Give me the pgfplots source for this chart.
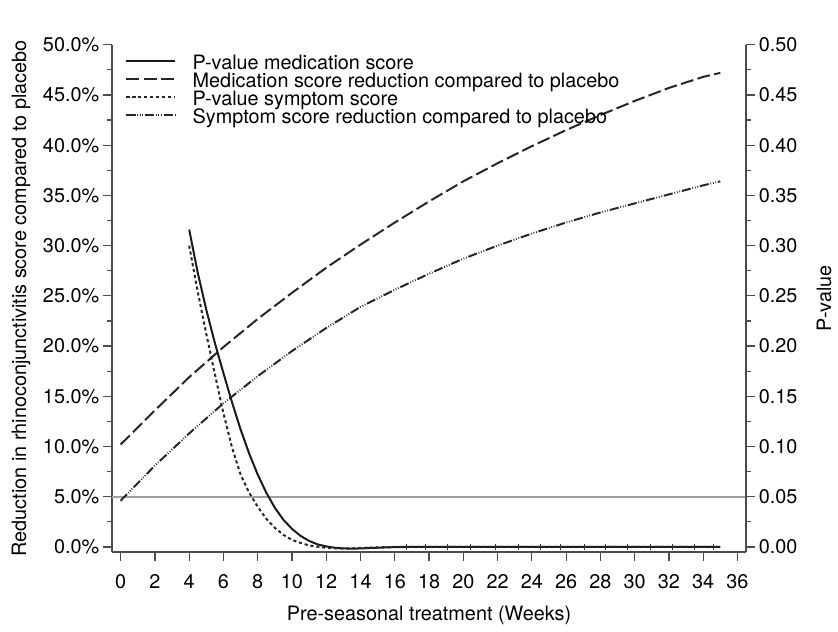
\documentclass[border=0pt]{standalone}
\usepackage{pgfplots}
\pgfplotsset{compat=1.18}
\usepackage{fontspec}
\setmainfont{TeX Gyre Heros}

\definecolor{axisgray}{gray}{0.3}
\definecolor{refgray}{gray}{0.62}

\tikzset{
  pmed/.style={black!90, line width=1pt, solid},
  medred/.style={black!85, line width=1pt, dash pattern=on 6.5pt off 2.2pt},
  psym/.style={black!85, line width=1pt, dash pattern=on 1.6pt off 1.4pt},
  symred/.style={black!85, line width=1pt, dash pattern=on 4.6pt off 0.9pt on 0.4pt off 0.9pt on 0.4pt off 0.9pt on 0.4pt off 0.9pt},
}

\begin{document}
\fontsize{10}{12}\selectfont
\begin{tikzpicture}
\pgfplotsset{
  every axis/.append style={
    scale only axis, width=318.7bp, height=255bp,
    xmin=-0.5, xmax=36.5,
    font=\fontsize{10}{12}\selectfont,
    tick align=outside,
    major tick length=4.5bp, minor tick length=2.5bp,
    every tick/.style={axisgray, line width=0.6pt},
    axis line style={axisgray, line width=0.8pt},
    /pgf/number format/assume math mode=true,
    yticklabel style={inner sep=1.8pt},
    xticklabel style={yshift=-3.2bp},
  },
}
% left axis: reductions (%)
\begin{axis}[
  axis x line*=bottom, axis y line*=left,
  ymin=-0.5, ymax=50,
  xtick={0,2,...,36},
  ytick={0,5,10,15,20,25,30,35,40,45,50},
  minor ytick={2.5,7.5,12.5,17.5,22.5,27.5,32.5,37.5,42.5,47.5},
  yticklabel={\pgfmathprintnumber[fixed,fixed zerofill,precision=1]{\tick}\%},
  xlabel={Pre-seasonal treatment (Weeks)},
  xlabel style={yshift=-2bp},
  ylabel={Reduction in rhinoconjunctivitis score compared to placebo},
  ylabel style={yshift=1bp},
]
\addplot[refgray, line width=1.2pt] coordinates {(-0.5,5) (36.5,5)};
% medication score reduction
\addplot[medred] coordinates {
 (0,10.2) (2,13.6) (4,16.9) (6,19.9) (8,22.7) (10,25.3) (12,27.8)
 (14,30.1) (16,32.3) (18,34.4) (20,36.4) (22,38.2) (24,39.9) (26,41.5)
 (28,43.0) (30,44.4) (32,45.7) (34,46.8) (35,47.2)
};
% symptom score reduction
\addplot[symred] coordinates {
 (0,4.6) (2,8.1) (4,11.3) (6,14.3) (8,17.0) (10,19.5) (12,21.8)
 (14,23.9) (16,25.6) (18,27.2) (20,28.7) (22,30.0) (24,31.2) (26,32.3)
 (28,33.3) (30,34.2) (32,35.1) (34,36.0) (35,36.4)
};
\end{axis}
% right axis: p-values
\begin{axis}[
  axis x line=none, axis y line*=right,
  ymin=-0.005, ymax=0.5,
  ytick={0,0.05,0.10,0.15,0.20,0.25,0.30,0.35,0.40,0.45,0.50},
  minor ytick={0.025,0.075,0.125,0.175,0.225,0.275,0.325,0.375,0.425,0.475},
  yticklabel style={/pgf/number format/.cd, fixed, fixed zerofill, precision=2},
  ylabel={P-value},
  ylabel style={at={(rel axis cs:1,0.5)}, anchor=north, yshift=-32bp},
  legend style={at={(axis description cs:0.021,0.977)}, anchor=north west,
    draw=none, fill=none, inner sep=0pt, outer sep=0pt,
    nodes={inner sep=0pt, text height=6.6pt, text depth=2.55pt},
    /tikz/every odd column/.append style={column sep=8.35bp}},
  legend cell align=left,
  legend image code/.code={\draw[#1] (0bp,2.2bp) -- (24.5bp,2.2bp);},
]
\addplot[pmed] coordinates {
 (4,0.316) (4.5,0.273) (5,0.236) (5.5,0.203) (6,0.173) (6.5,0.144)
 (7,0.117) (7.5,0.093) (8,0.072) (8.5,0.054) (9,0.039) (9.5,0.027)
 (10,0.018) (10.5,0.011) (11,0.006) (11.5,0.0025) (12,0.0005)
 (12.5,-0.0008) (13,-0.0015) (13.5,-0.0017) (14,-0.0015) (15,-0.0008)
 (16,-0.0002) (17,0) (20,0) (25,0) (30,0) (35,0)
};
\addlegendentry{P-value medication score}
\addlegendimage{medred}
\addlegendentry{Medication score reduction compared to placebo}
\addplot[psym] coordinates {
 (4,0.300) (4.5,0.254) (5,0.212) (5.5,0.172) (6,0.133) (6.5,0.099)
 (7,0.072) (7.5,0.054) (8,0.040) (8.5,0.028) (9,0.019) (9.5,0.012)
 (10,0.007) (10.5,0.004) (11,0.0015) (11.5,0.0002) (12,-0.0008)
 (12.5,-0.0014) (13,-0.0016) (13.5,-0.0014) (14,-0.001) (15,-0.0004)
 (16,0) (20,0) (25,0) (30,0) (35,0)
};
\addlegendentry{P-value symptom score}
\addlegendimage{symred}
\addlegendentry{Symptom score reduction compared to placebo}
% small point markers along the flat part
\addplot[only marks, mark=|, mark size=1.6bp, black!80, mark options={line width=0.5pt}, forget plot] coordinates {
 (16.7,0) (17.8,0) (19.1,0) (20.4,0) (21.9,0) (23.2,0) (24.5,0) (25.7,0)
 (27.1,0) (28.3,0) (29.6,0) (30.9,0) (32.2,0) (33.5,0) (34.6,0)
};
\end{axis}
\path ([xshift=-56.35bp,yshift=-33.5bp]current axis.south west)
  rectangle ([xshift=44bp,yshift=22.5bp]current axis.north east);
\end{tikzpicture}
\end{document}
